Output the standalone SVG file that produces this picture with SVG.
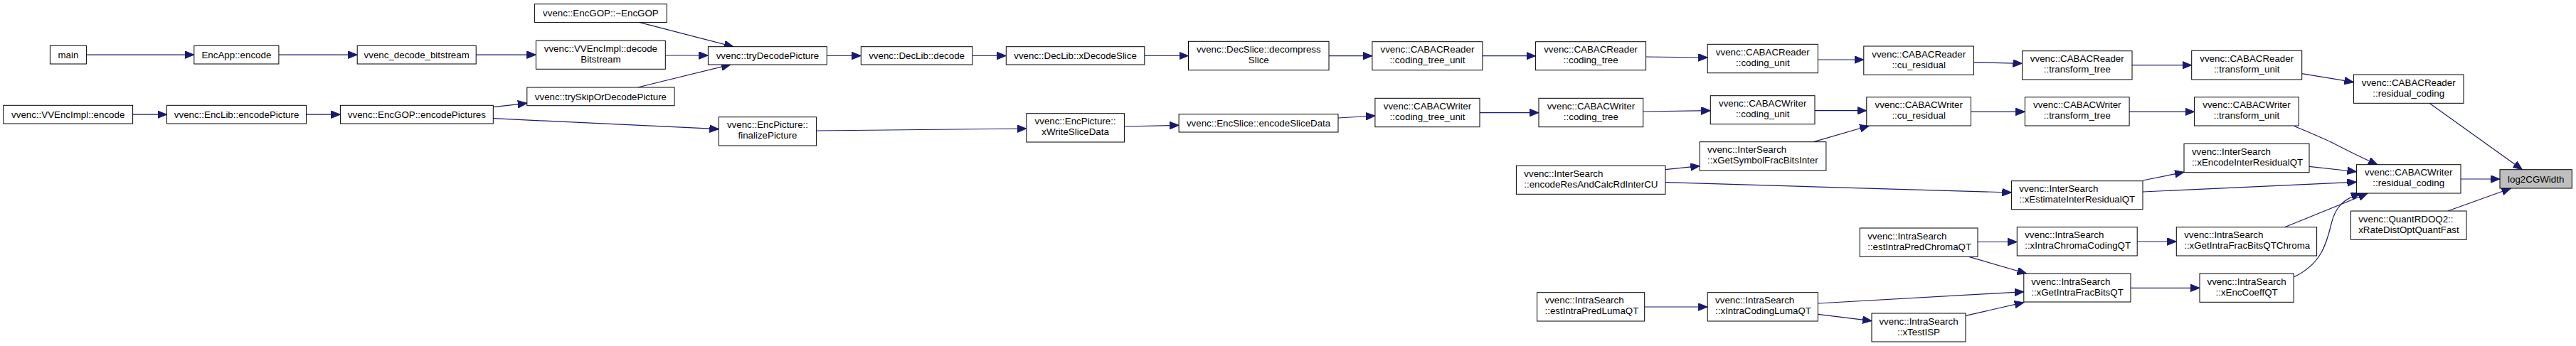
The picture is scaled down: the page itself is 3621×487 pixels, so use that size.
<svg xmlns="http://www.w3.org/2000/svg" width="3621" height="487" viewBox="0 0 3621 487">
<style>
.n rect{fill:#fff;stroke:#000;stroke-width:1}
#n41 rect{fill:#bfbfbf}
text{font-family:"Liberation Sans",Arial,sans-serif;font-size:13.33px;fill:#000}
.c{text-anchor:middle}
.l{text-anchor:start}
.e path{fill:none;stroke:#191970;stroke-width:1.2;marker-end:url(#a)}
</style>
<defs>
<marker id="a" markerUnits="userSpaceOnUse" markerWidth="14" markerHeight="11" refX="13" refY="5.3" orient="auto">
<path d="M0,0 L13,5.3 L0,10.6 z" fill="#191970" stroke="#191970" stroke-width="1"/>
</marker>
</defs>
<rect width="3621" height="487" fill="#fff"/>
<g id="edges" class="e">
<path d="M121.4,77.1 L272.8,77.1"/>
<path d="M391.9,77.1 L502.2,77.1"/>
<path d="M669.2,77.1 L753.4,77.1"/>
<path d="M898.4,31.4 L1031,65.7"/>
<path d="M935.3,78 L995.4,78"/>
<path d="M896.4,123 L1026.9,91"/>
<path d="M186.6,161.2 L234.5,161.2"/>
<path d="M430.6,161.2 L478.4,161.2"/>
<path d="M693.3,150.7 L740.8,145.3"/>
<path d="M693.3,166.7 L1010.4,181.7"/>
<path d="M1162.3,78.5 L1210.3,78.5"/>
<path d="M1147.6,184 L1442.8,181"/>
<path d="M1366.9,78.5 L1414.3,78.5"/>
<path d="M1608.8,78.5 L1670.5,78.5"/>
<path d="M1580.4,178 L1657.1,176.3"/>
<path d="M1868,78.7 L1928.9,78.7"/>
<path d="M2083.9,78.7 L2158.6,78.7"/>
<path d="M2313.6,80 L2400.2,81"/>
<path d="M1881,166 L1932.9,163"/>
<path d="M2080,158.6 L2163,158.6"/>
<path d="M2309.7,157 L2404.3,155.7"/>
<path d="M2341,238.7 L2389.2,233.7"/>
<path d="M2341,256.7 L2827.4,271"/>
<path d="M2311.7,432 L2400.2,432"/>
<path d="M2555.4,84 L2619.8,84"/>
<path d="M2774.5,87.7 L2842.5,89.3"/>
<path d="M2551,155.7 L2623.8,155.7"/>
<path d="M2549.4,199.7 L2627.3,177"/>
<path d="M2770.5,157.3 L2846.4,157.3"/>
<path d="M2780,340.5 L2835.3,340.5"/>
<path d="M2767.6,361.3 L2848.6,385"/>
<path d="M2555.4,427 L2844.8,410.7"/>
<path d="M2555.4,442.3 L2631,451.7"/>
<path d="M2763,444.3 L2844.8,425.7"/>
<path d="M2997,91.7 L3080.7,91.7"/>
<path d="M3235.7,103.7 L3308.4,115.7"/>
<path d="M2993.1,157.3 L3084.6,157.3"/>
<path d="M3011.9,254 L3070,242.3"/>
<path d="M3012,270 L3312.4,256.3"/>
<path d="M3246,234.3 L3312.4,241.7"/>
<path d="M3225.3,177.7 C3245,186 3262,193 3276.7,200 C3300,212 3322,223 3342,231.7"/>
<path d="M3004.2,340 L3059.3,340"/>
<path d="M3211.5,319.7 L3328,272.3"/>
<path d="M2995,405.3 L3092,405.3"/>
<path d="M3224.2,390 C3262,372 3270,345 3277,315 C3283,290 3295,280 3318,272"/>
<path d="M3415,145.3 L3545.5,238.7"/>
<path d="M3459,252 L3514,252"/>
<path d="M3440.7,297 L3529.6,265"/>
</g>
<g id="n1" class="n"><rect x="70.4" y="64.3" width="51" height="25.7"/><text class="c" x="95.9" y="81.8">main</text></g>
<g id="n2" class="n"><rect x="272.8" y="64.3" width="119.1" height="25.7"/><text class="c" x="332.4" y="81.8">EncApp::encode</text></g>
<g id="n3" class="n"><rect x="502.2" y="64.3" width="167" height="25.7"/><text class="c" x="585.7" y="81.8">vvenc_decode_bitstream</text></g>
<g id="n4" class="n"><rect x="4.7" y="148.3" width="181.9" height="25.7"/><text class="c" x="95.7" y="165.8">vvenc::VVEncImpl::encode</text></g>
<g id="n5" class="n"><rect x="234.5" y="148.3" width="196.1" height="25.7"/><text class="c" x="332.6" y="165.8">vvenc::EncLib::encodePicture</text></g>
<g id="n6" class="n"><rect x="478.4" y="148.3" width="214.9" height="25.7"/><text class="c" x="585.9" y="165.8">vvenc::EncGOP::encodePictures</text></g>
<g id="n7" class="n"><rect x="751.4" y="5.7" width="185.9" height="25.7"/><text class="c" x="844.4" y="23.2">vvenc::EncGOP::~EncGOP</text></g>
<g id="n8" class="n"><rect x="753.4" y="57.3" width="181.9" height="40"/><text class="c" x="844.4" y="73">vvenc::VVEncImpl::decode</text><text class="c" x="844.4" y="88">Bitstream</text></g>
<g id="n9" class="n"><rect x="995.4" y="65.7" width="166.9" height="25.3"/><text class="c" x="1078.9" y="83">vvenc::tryDecodePicture</text></g>
<g id="n10" class="n"><rect x="740.8" y="123" width="207.2" height="25.7"/><text class="c" x="844.4" y="140.5">vvenc::trySkipOrDecodePicture</text></g>
<g id="n11" class="n"><rect x="1010.4" y="164.7" width="137.2" height="40.3"/><text class="c" x="1079" y="180.4">vvenc::EncPicture::</text><text class="c" x="1079" y="195.4">finalizePicture</text></g>
<g id="n12" class="n"><rect x="1210.3" y="65.7" width="156.6" height="25.3"/><text class="c" x="1288.6" y="83">vvenc::DecLib::decode</text></g>
<g id="n13" class="n"><rect x="1414.3" y="65.7" width="194.5" height="25.3"/><text class="c" x="1511.6" y="83">vvenc::DecLib::xDecodeSlice</text></g>
<g id="n14" class="n"><rect x="1670.5" y="58.3" width="197.5" height="40.4"/><text class="c" x="1769.3" y="74">vvenc::DecSlice::decompress</text><text class="c" x="1769.3" y="89">Slice</text></g>
<g id="n15" class="n"><rect x="1442.8" y="159.7" width="137.6" height="40.3"/><text class="c" x="1511.6" y="175.4">vvenc::EncPicture::</text><text class="c" x="1511.6" y="190.4">xWriteSliceData</text></g>
<g id="n16" class="n"><rect x="1657.1" y="160.7" width="223.9" height="25.3"/><text class="c" x="1769.1" y="178">vvenc::EncSlice::encodeSliceData</text></g>
<g id="n17" class="n"><rect x="1928.9" y="58.7" width="155" height="40"/><text class="c" x="2006.4" y="74.4">vvenc::CABACReader</text><text class="c" x="2006.4" y="89.4">::coding_tree_unit</text></g>
<g id="n18" class="n"><rect x="2158.6" y="58.7" width="155" height="40"/><text class="c" x="2236.1" y="74.4">vvenc::CABACReader</text><text class="c" x="2236.1" y="89.4">::coding_tree</text></g>
<g id="n19" class="n"><rect x="1932.9" y="138.3" width="147.1" height="40.4"/><text class="c" x="2006.5" y="154">vvenc::CABACWriter</text><text class="c" x="2006.5" y="169">::coding_tree_unit</text></g>
<g id="n20" class="n"><rect x="2163" y="138.3" width="146.7" height="40.4"/><text class="c" x="2236.4" y="154">vvenc::CABACWriter</text><text class="c" x="2236.4" y="169">::coding_tree</text></g>
<g id="n21" class="n"><rect x="2131.4" y="233.3" width="209.6" height="40"/><text class="l" x="2142.3" y="249">vvenc::InterSearch</text><text class="l" x="2142.3" y="264">::encodeResAndCalcRdInterCU</text></g>
<g id="n22" class="n"><rect x="2160.6" y="411.7" width="151.1" height="40.3"/><text class="l" x="2171.5" y="427.4">vvenc::IntraSearch</text><text class="l" x="2171.5" y="442.4">::estIntraPredLumaQT</text></g>
<g id="n23" class="n"><rect x="2400.2" y="62.3" width="155.2" height="40.4"/><text class="c" x="2477.8" y="78">vvenc::CABACReader</text><text class="c" x="2477.8" y="93">::coding_unit</text></g>
<g id="n24" class="n"><rect x="2619.8" y="65" width="154.7" height="40.3"/><text class="c" x="2697.2" y="80.7">vvenc::CABACReader</text><text class="c" x="2697.2" y="95.7">::cu_residual</text></g>
<g id="n25" class="n"><rect x="2842.5" y="71.7" width="154.5" height="40.3"/><text class="c" x="2919.8" y="87.4">vvenc::CABACReader</text><text class="c" x="2919.8" y="102.4">::transform_tree</text></g>
<g id="n26" class="n"><rect x="2404.3" y="134.7" width="146.7" height="40"/><text class="c" x="2477.7" y="150.4">vvenc::CABACWriter</text><text class="c" x="2477.7" y="165.4">::coding_unit</text></g>
<g id="n27" class="n"><rect x="2623.8" y="136.7" width="146.7" height="40.3"/><text class="c" x="2697.2" y="152.4">vvenc::CABACWriter</text><text class="c" x="2697.2" y="167.4">::cu_residual</text></g>
<g id="n28" class="n"><rect x="2846.4" y="136.7" width="146.7" height="40.3"/><text class="c" x="2919.8" y="152.4">vvenc::CABACWriter</text><text class="c" x="2919.8" y="167.4">::transform_tree</text></g>
<g id="n29" class="n"><rect x="2389.2" y="199.7" width="177.7" height="40.3"/><text class="l" x="2400.1" y="215.4">vvenc::InterSearch</text><text class="l" x="2400.1" y="230.4">::xGetSymbolFracBitsInter</text></g>
<g id="n30" class="n"><rect x="2827.4" y="254.7" width="184.6" height="40"/><text class="l" x="2838.3" y="270.4">vvenc::InterSearch</text><text class="l" x="2838.3" y="285.4">::xEstimateInterResidualQT</text></g>
<g id="n31" class="n"><rect x="2614.3" y="321" width="165.7" height="40.3"/><text class="l" x="2625.2" y="336.7">vvenc::IntraSearch</text><text class="l" x="2625.2" y="351.7">::estIntraPredChromaQT</text></g>
<g id="n32" class="n"><rect x="2835.3" y="319.7" width="168.9" height="40.3"/><text class="l" x="2846.2" y="335.4">vvenc::IntraSearch</text><text class="l" x="2846.2" y="350.4">::xIntraChromaCodingQT</text></g>
<g id="n33" class="n"><rect x="2844.8" y="385" width="150.2" height="40"/><text class="l" x="2855.2" y="400.7">vvenc::IntraSearch</text><text class="l" x="2855.2" y="415.7">::xGetIntraFracBitsQT</text></g>
<g id="n34" class="n"><rect x="2400.2" y="411.7" width="155.2" height="40.3"/><text class="l" x="2411.1" y="427.4">vvenc::IntraSearch</text><text class="l" x="2411.1" y="442.4">::xIntraCodingLumaQT</text></g>
<g id="n35" class="n"><rect x="2631" y="441" width="132" height="40"/><text class="c" x="2697" y="456.7">vvenc::IntraSearch</text><text class="c" x="2697" y="471.7">::xTestISP</text></g>
<g id="n36" class="n"><rect x="3080.7" y="71.3" width="155" height="40.7"/><text class="c" x="3158.2" y="87.2">vvenc::CABACReader</text><text class="c" x="3158.2" y="102.2">::transform_unit</text></g>
<g id="n37" class="n"><rect x="3308.4" y="105" width="154.6" height="40.3"/><text class="c" x="3385.7" y="120.7">vvenc::CABACReader</text><text class="c" x="3385.7" y="135.7">::residual_coding</text></g>
<g id="n38" class="n"><rect x="3084.6" y="136.7" width="146.7" height="40.3"/><text class="c" x="3158" y="152.4">vvenc::CABACWriter</text><text class="c" x="3158" y="167.4">::transform_unit</text></g>
<g id="n39" class="n"><rect x="3070" y="202.3" width="176" height="40.4"/><text class="l" x="3080.9" y="218">vvenc::InterSearch</text><text class="l" x="3080.9" y="233">::xEncodeInterResidualQT</text></g>
<g id="n40" class="n"><rect x="3312.4" y="231.7" width="146.6" height="40.3"/><text class="c" x="3385.7" y="247.4">vvenc::CABACWriter</text><text class="c" x="3385.7" y="262.4">::residual_coding</text></g>
<g id="n41" class="n"><rect x="3514" y="238.7" width="101.3" height="26.3"/><text class="c" x="3564.7" y="256.5">log2CGWidth</text></g>
<g id="n42" class="n"><rect x="3304.5" y="297" width="162.5" height="40.3"/><text class="l" x="3315.2" y="312.7">vvenc::QuantRDOQ2::</text><text class="l" x="3315.2" y="327.7">xRateDistOptQuantFast</text></g>
<g id="n43" class="n"><rect x="3059.3" y="319.7" width="197.3" height="40.3"/><text class="l" x="3070.2" y="335.4">vvenc::IntraSearch</text><text class="l" x="3070.2" y="350.4">::xGetIntraFracBitsQTChroma</text></g>
<g id="n44" class="n"><rect x="3092" y="385" width="132.2" height="40.3"/><text class="c" x="3158.1" y="400.7">vvenc::IntraSearch</text><text class="c" x="3158.1" y="415.7">::xEncCoeffQT</text></g>
</svg>
